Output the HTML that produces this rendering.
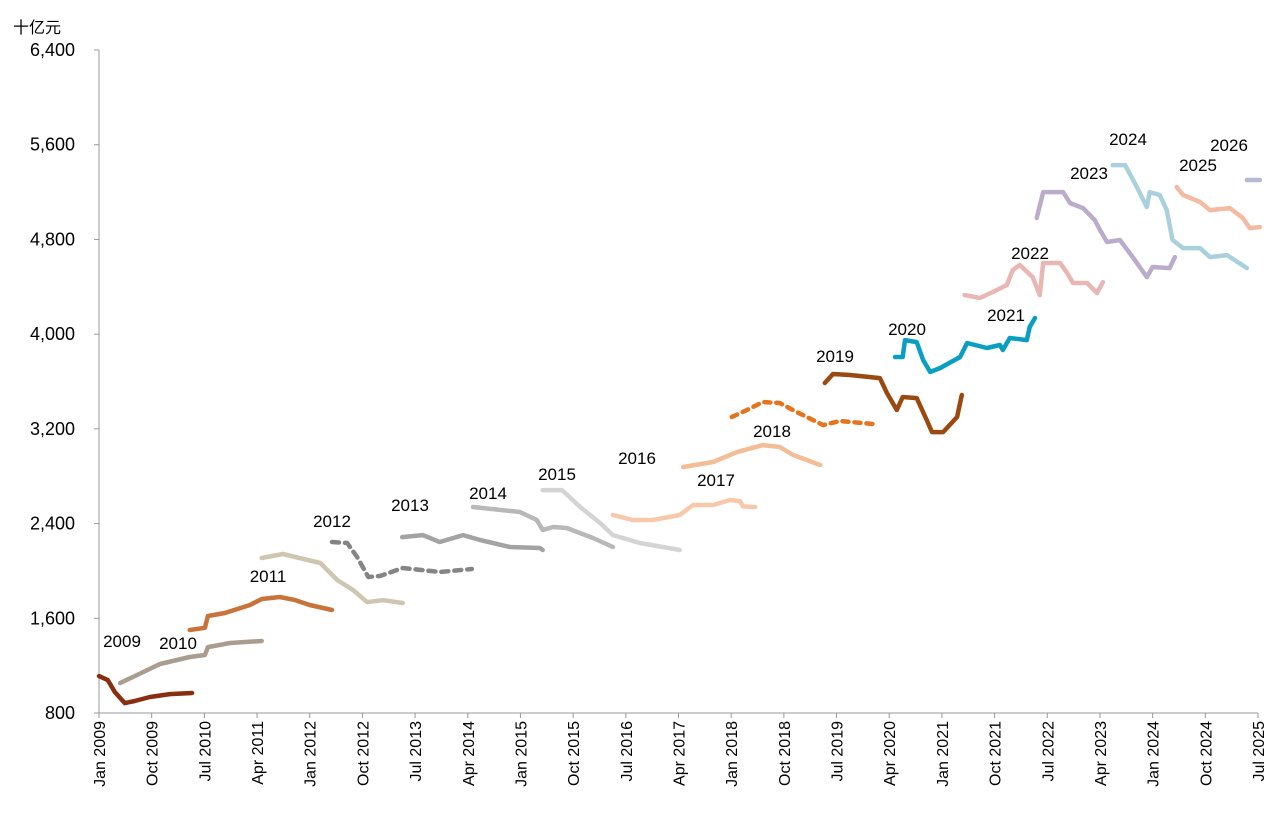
<!DOCTYPE html>
<html><head><meta charset="utf-8"><style>
html,body{margin:0;padding:0;background:#fff;}
svg{display:block;font-family:"Liberation Sans","Noto Sans CJK SC",sans-serif;}
</style></head><body>
<svg id="chart" width="1278" height="828" viewBox="0 0 1278 828"></svg>
<script>
const yTicks=[800,1600,2400,3200,4000,4800,5600,6400];
const xTickLabels=["Jan 2009","Oct 2009","Jul 2010","Apr 2011","Jan 2012","Oct 2012","Jul 2013","Apr 2014","Jan 2015","Oct 2015","Jul 2016","Apr 2017","Jan 2018","Oct 2018","Jul 2019","Apr 2020","Jan 2021","Oct 2021","Jul 2022","Apr 2023","Jan 2024","Oct 2024","Jul 2025"];
const seriesNames=["2009","2010","2011","2012","2012b","2013","2014","2015","2016","2017","2018","2019","2020","2022","2023","2024","2025","2026"];
const s2009m=[0,1.5,2.7,4.4,6.1,8.7,12.1,15.9];
const s2009v=[1112,1078,977,884,901,935,960,969];
const s2010m=[3.6,6.1,10.4,15.5,18.1,18.6,22.4,27.8];
const s2010v=[1053,1112,1214,1273,1290,1357,1391,1408];
const s2011m=[15.5,18.1,18.6,21.5,25.8,27.8,30.9,33.5,36,39.8];
const s2011v=[1501,1520,1619,1645,1712,1763,1780,1754,1712,1670];
const s2012m=[27.8,31.4,37.8,40.7,43.4,45.8,48.5,51.9];
const s2012v=[2109,2143,2067,1923,1839,1737,1754,1729];
const s2012bm=[39.8,42.4,44.1,46,48,51.9,58.2,63.7];
const s2012bv=[2244,2236,2118,1949,1957,2025,1991,2016];
const s2013m=[51.8,55.3,58.2,62.2,65.1,70.2,75.3,75.8];
const s2013v=[2286,2303,2244,2303,2261,2202,2194,2177];
const s2014m=[63.9,71.9,74.8,75.8,77.6,79.9,84.4,87.8];
const s2014v=[2540,2498,2430,2346,2371,2363,2278,2202];
const s2015m=[75.8,79.1,82.2,85.6,87.8,92.4,99.2];
const s2015v=[2683,2683,2540,2405,2303,2236,2177];
const s2016m=[87.8,91.2,94.6,99.2,101.5,104.9,107.8,109.5,110,112.1];
const s2016v=[2472,2430,2430,2472,2557,2557,2599,2590,2545,2540];
const s2017m=[99.8,104.9,109,113.4,116.3,118.6,123.2];
const s2017v=[2878,2920,3004,3063,3047,2979,2895];
const s2018m=[108.1,110.7,113.4,116.3,119.2,123.7,126.6,132.2];
const s2018v=[3300,3359,3427,3418,3342,3232,3266,3241];
const s2019m=[124,125.4,128.3,133.4,134.6,136.3,137.3,139.7,141.4,142.3,144.2,146.6,147.4];
const s2019v=[3587,3663,3655,3629,3503,3359,3469,3460,3275,3173,3173,3300,3486];
const s2020m=[136,137.3,137.7,139.7,140.8,142,143.7,147.1,148.3,151.7,153.9,154.4,155.6,158.5,159,159.9];
const s2020v=[3807,3807,3950,3933,3781,3680,3714,3807,3925,3883,3908,3866,3967,3950,4060,4136];
const s2022m=[147.9,150.5,152.7,155.1,156.1,157.3,159.5,160.7,161.3,164.2,165.4,166.4,168.8,170.5,171.5];
const s2022v=[4330,4305,4356,4415,4541,4584,4482,4330,4601,4601,4516,4432,4432,4347,4440];
const s2023m=[160.2,161.3,164.7,165.9,168.1,170.1,171,172.2,174.4,176.6,179,180,182.9,183.8];
const s2023v=[4981,5200,5200,5107,5065,4964,4880,4778,4795,4651,4482,4567,4558,4651];
const s2024m=[173.2,175.3,177.3,179,179.5,181.2,182.4,183.4,185.2,188.1,189.8,192.7,196.1];
const s2024v=[5428,5428,5243,5074,5200,5175,5048,4795,4727,4727,4651,4668,4558];
const s2025m=[184.1,185.2,188.1,189.8,193.2,195.4,196.6,198.3];
const s2025v=[5243,5175,5116,5048,5065,4981,4896,4904];
const s2026m=[196.1,198.3];
const s2026v=[5302,5302];

const NS="http://www.w3.org/2000/svg";
const svg=document.getElementById("chart");
const X0=99,X1=1258,Y0=713,Y1=50,VMIN=800,VMAX=6400,MMAX=198;
function xs(m){return X0+(X1-X0)*m/MMAX;}
function ys(v){return Y0-(Y0-Y1)*(v-VMIN)/(VMAX-VMIN);}
function mk(tag,attrs){const e=document.createElementNS(NS,tag);for(const k in attrs)e.setAttribute(k,attrs[k]);svg.appendChild(e);return e;}

const ax=mk("line",{x1:X0,y1:Y1,x2:X0,y2:Y0,stroke:"#999","stroke-width":1});


const bx=mk("line",{x1:X0,y1:Y0,x2:X1,y2:Y0,stroke:"#999","stroke-width":1});



yTicks.forEach(v=>{
  const t=mk("line",{x1:X0-5,y1:ys(v),x2:X0,y2:ys(v),stroke:"#999"});
  
  
  const l=mk("text",{x:75,y:ys(v)+6,"text-anchor":"end","font-size":18,fill:"#000"});
  l.textContent=v.toLocaleString("en-US");
  
  
});
xTickLabels.forEach((s,i)=>{
  const x=xs(i*9);
  const t=mk("line",{x1:x,y1:Y0,x2:x,y2:Y0+5,stroke:"#999"});
  
  
  const l=mk("text",{x:0,y:0,"text-anchor":"end","font-size":16,fill:"#000",transform:`translate(${x+6},${Y0+8}) rotate(-90)`});
  l.textContent=s;
  
  
});
const unit=mk("text",{x:13,y:33,"font-size":16,fill:"#000"});
unit.textContent="十亿元";



const series=[
 [s2009m,s2009v,"#8a2e12",null],[s2010m,s2010v,"#aa9c8e",null],[s2011m,s2011v,"#c8733a",null],
 [s2012m,s2012v,"#cfc6b2",null],[s2012bm,s2012bv,"#858585","7 6"],[s2013m,s2013v,"#a3a3a3",null],
 [s2014m,s2014v,"#b8b8b8",null],[s2015m,s2015v,"#d4d4d4",null],[s2016m,s2016v,"#f7c9aa",null],
 [s2017m,s2017v,"#f3bd96",null],[s2018m,s2018v,"#e5741e","6 6"],[s2019m,s2019v,"#9a4a10",null],
 [s2020m,s2020v,"#0a9fc2",null],[s2022m,s2022v,"#e9b7b3",null],[s2023m,s2023v,"#bcaccb",null],
 [s2024m,s2024v,"#a9d0dc",null],[s2025m,s2025v,"#f2bba2",null],[s2026m,s2026v,"#b3bad2",null]];
series.forEach((s,i)=>{
  const d=s[0].map((m,j)=>(j?"L":"M")+xs(m).toFixed(1)+","+ys(s[1][j]).toFixed(1)).join("");
  const a={d:d,fill:"none",stroke:s[2],"stroke-width":4.5,"stroke-linejoin":"round","stroke-linecap":"round"};
  if(s[3])a["stroke-dasharray"]=s[3];
  const p=mk("path",a);
  
  
});
const labels=[["2009",122,647],["2010",178,649],["2011",268,582],["2012",332,527],["2013",410,511],["2014",488,499],["2015",557,480],["2016",637,464],["2017",716,486],["2018",772,437],["2019",835,362],["2020",907,335],["2021",1006,321],["2022",1030,259],["2023",1089,179],["2024",1128,145],["2025",1198,171],["2026",1229,151]];
labels.forEach(l=>{
  const t=mk("text",{x:l[1],y:l[2],"text-anchor":"middle","font-size":17,fill:"#000"});
  t.textContent=l[0];
  
  
});
</script>
</body></html>
